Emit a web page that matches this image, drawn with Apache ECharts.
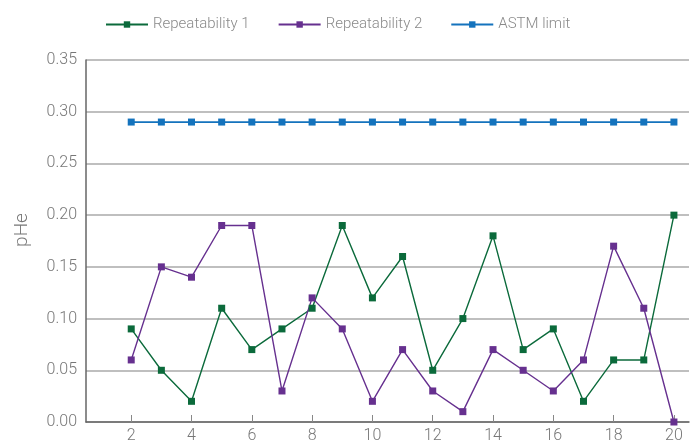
<!DOCTYPE html>
<html><head><meta charset="utf-8">
<script src="https://cdn.jsdelivr.net/npm/echarts@6/dist/echarts.min.js"></script>
<style>html,body{margin:0;padding:0;background:#fff}#c{width:696px;height:446px}</style>
</head><body><div id="c"></div>
<script>
const categories = ['1','2','3','4','5','6','7','8','9','10','11','12','13','14','15','16','17','18','19','20'];
const repeatability1 = [null,0.09,0.05,0.02,0.11,0.07,0.09,0.11,0.19,0.12,0.16,0.05,0.10,0.18,0.07,0.09,0.02,0.06,0.06,0.20];
const repeatability2 = [null,0.06,0.15,0.14,0.19,0.19,0.03,0.12,0.09,0.02,0.07,0.03,0.01,0.07,0.05,0.03,0.06,0.17,0.11,0.00];
const astmLimit = [null,0.29,0.29,0.29,0.29,0.29,0.29,0.29,0.29,0.29,0.29,0.29,0.29,0.29,0.29,0.29,0.29,0.29,0.29,0.29];
const yTicks = {min:0, max:0.35, interval:0.05};

const font = 'Roboto';
const chart = echarts.init(document.getElementById('c'));
function mk(name, data, color){
  return {name, type:'line', data, symbol:'rect', symbolSize:7, showSymbol:true,
    lineStyle:{color, width:1.4}, itemStyle:{color}, connectNulls:false, animation:false};
}
chart.setOption({
  animation:false,
  textStyle:{fontFamily:font},
  legend:{left:100, top:12, itemWidth:42, itemHeight:8, itemGap:28,
    textStyle:{color:'#8a8a8a', fontSize:15, fontFamily:font, fontWeight:300},
    data:['Repeatability 1','Repeatability 2','ASTM limit']},
  grid:{left:86, right:7, top:60, bottom:24, containLabel:false},
  xAxis:{type:'category', data:categories, boundaryGap:true,
    axisLine:{lineStyle:{color:'#666', width:1.5}},
    axisTick:{show:true, inside:true, length:7, alignWithLabel:true, lineStyle:{color:'#888'},
      interval:(i)=>i%2===1},
    axisLabel:{interval:(i)=>i%2===1, color:'#777', fontSize:16, margin:6, fontFamily:font, fontWeight:300},
    splitLine:{show:false}},
  yAxis:{type:'value', min:yTicks.min, max:yTicks.max, interval:yTicks.interval,
    name:'pHe', nameLocation:'middle', nameGap:54, nameRotate:90,
    nameTextStyle:{color:'#777', fontSize:19, fontFamily:font, fontWeight:300, padding:[0,0,0,22]},
    axisLine:{show:true, lineStyle:{color:'#666', width:1.5}},
    axisTick:{show:false},
    axisLabel:{color:'#777', fontSize:16, margin:9, fontFamily:font, fontWeight:300, formatter:(v)=>v.toFixed(2)},
    splitLine:{lineStyle:{color:'#aaa', width:1.5}}},
  series:[
    mk('Repeatability 1', repeatability1, '#0b6a3b'),
    mk('Repeatability 2', repeatability2, '#66308f'),
    Object.assign(mk('ASTM limit', astmLimit, '#1473bd'), {lineStyle:{color:'#1473bd', width:1.8}})
  ]
});
</script></body></html>
